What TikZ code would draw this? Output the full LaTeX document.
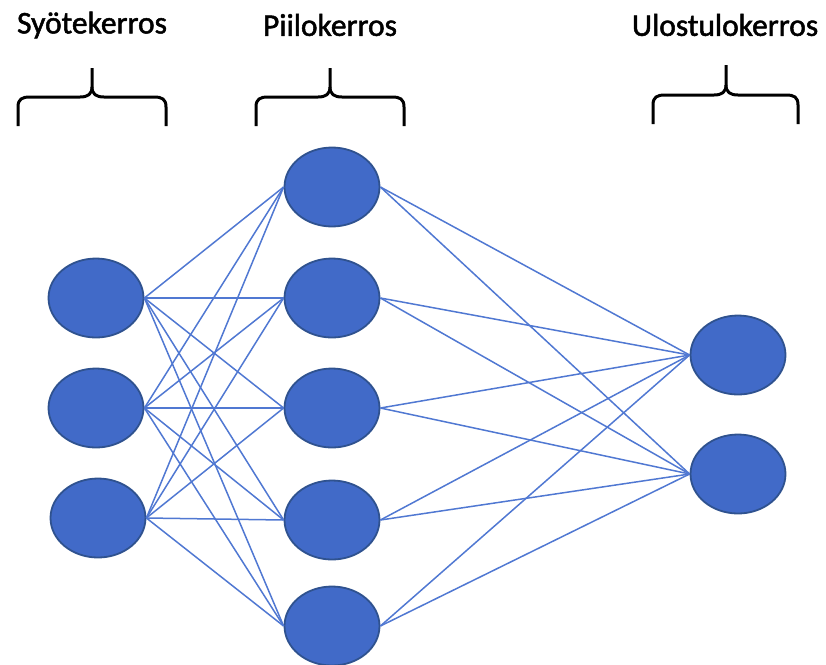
\documentclass[tikz,border=0pt]{standalone}
\usepackage{fontspec}
\setmainfont{Carlito}
\newfontfamily\titlefont[FakeBold=1.6]{Carlito}
\usetikzlibrary{shapes.geometric}
\definecolor{nodefill}{RGB}{65,106,200}
\definecolor{nodeborder}{RGB}{47,82,143}
\definecolor{edgecol}{RGB}{80,120,210}
\tikzset{
  neuron/.style={ellipse, draw=nodeborder, fill=nodefill, line width=1.8pt, minimum width=95pt, minimum height=79pt, inner sep=0pt},
  conn/.style={edgecol, line width=1.5pt},
  title/.style={font=\titlefont\fontsize{31.5}{34}\selectfont, text=black, inner sep=0pt},
  bracestyle/.style={line width=3pt, black, line cap=butt, line join=round}
}
\newcommand{\mybrace}[6]{%
  % #1 left x, #2 right x, #3 tip x, #4 bottom y, #5 horizontal y, #6 top y
  \draw[bracestyle] (#1,#4) -- (#1,#5+10) .. controls (#1,#5+2) and (#1+4,#5) .. (#1+12,#5)
    -- (#3-12,#5) .. controls (#3-4,#5) and (#3,#5-3) .. (#3,#5-10) -- (#3,#6);
  \draw[bracestyle] (#2,#4) -- (#2,#5+10) .. controls (#2,#5+2) and (#2-4,#5) .. (#2-12,#5)
    -- (#3+12,#5) .. controls (#3+4,#5) and (#3,#5-3) .. (#3,#5-10);
}
\begin{document}
\begin{tikzpicture}[x=1pt,y=-1pt]
\useasboundingbox (0,0) rectangle (826,664);
% titles
\node[title] (t1) at (92,25) {Syötekerros};
\node[title] (t2) at (330,25) {Piilokerros};
\node[title] (t3) at (725,25) {Ulostulokerros};
% braces
\mybrace{18}{166}{92}{126}{97}{68}
\mybrace{256}{404}{330}{126}{97}{68}
\mybrace{653}{798}{726}{124}{95}{65}
% neurons
\node[neuron] (i1) at (96,298) {};
\node[neuron] (i2) at (96,408) {};
\node[neuron] (i3) at (98,518) {};
\node[neuron] (h1) at (332,187) {};
\node[neuron] (h2) at (332,298) {};
\node[neuron] (h3) at (332,408) {};
\node[neuron] (h4) at (332,520) {};
\node[neuron] (h5) at (332,626) {};
\node[neuron] (o1) at (738,355) {};
\node[neuron] (o2) at (738,474) {};
% connections
\foreach \i in {i1,i2,i3}{
  \foreach \h in {h1,h2,h3,h4,h5}{
    \draw[conn] (\i.east) -- (\h.west);
  }
}
\foreach \h in {h1,h2,h3,h4,h5}{
  \foreach \o in {o1,o2}{
    \draw[conn] (\h.east) -- (\o.west);
  }
}
\end{tikzpicture}
\end{document}
